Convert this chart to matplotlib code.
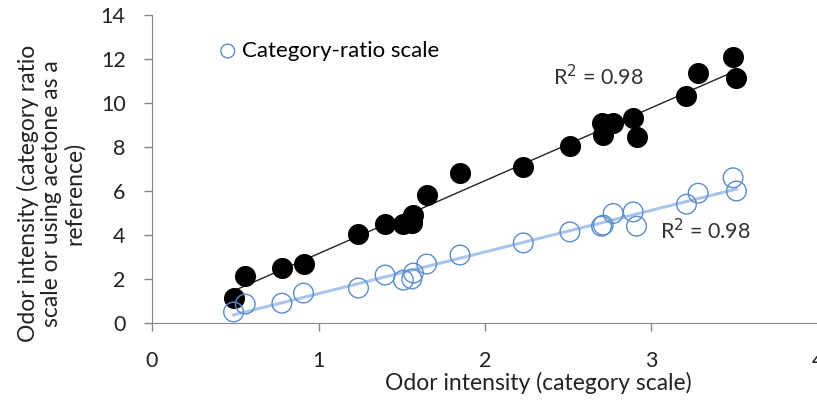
import numpy as np
import matplotlib
matplotlib.use("Agg")
from matplotlib import pyplot as plt

plt.rcParams['font.family'] = ['Lato', 'DejaVu Sans']

# category scale (x) shared by both series
x_cat = [0.49, 0.56, 0.78, 0.91, 1.24, 1.40, 1.51, 1.56, 1.57, 1.65, 1.85,
         2.23, 2.51, 2.70, 2.71, 2.77, 2.89, 2.91, 3.21, 3.28, 3.49, 3.51]
# acetone reference (black filled)
y_acetone = [1.14, 2.14, 2.50, 2.68, 4.05, 4.50, 4.50, 4.55, 4.90, 5.80, 6.80,
             7.09, 8.05, 9.10, 8.55, 9.10, 9.30, 8.45, 10.30, 11.35, 12.08, 11.13]
# category-ratio scale (blue open)
y_ratio = [0.50, 0.86, 0.90, 1.36, 1.59, 2.18, 1.95, 2.00, 2.27, 2.68, 3.09,
           3.64, 4.14, 4.40, 4.45, 4.98, 5.05, 4.40, 5.40, 5.90, 6.60, 6.00]

x_ticks = [0, 1, 2, 3, 4]
y_ticks = [0, 2, 4, 6, 8, 10, 12, 14]

blue = '#5b8ccc'
light_blue = '#a9c5ec'
grey = '#868686'
txt = '#222222'

fig = plt.figure(figsize=(8.17, 4.01), dpi=100)
ax = fig.add_axes([152 / 817, 78 / 401, 666 / 817, 308 / 401])

x = np.array(x_cat)
xs = np.array([x.min(), x.max()])

# linear trendlines
p1 = np.polyfit(x, y_acetone, 1)
p2 = np.polyfit(x, y_ratio, 1)
ax.plot(xs, np.polyval(p1, xs), color='#222222', lw=1.0, zorder=2)
ax.plot(xs, np.polyval(p2, xs), color=light_blue, lw=2.2, zorder=2)

ax.scatter(x_cat, y_acetone, s=200, color='black', zorder=3)
sc = ax.scatter(x_cat, y_ratio, s=200, facecolors='none', edgecolors=blue,
                linewidths=1.0, zorder=4, label='Category-ratio scale')

ax.text(2.41, 11.2, 'R$^2$ = 0.98', fontsize=15.5, color='#333333', va='center')
ax.text(3.05, 4.2, 'R$^2$ = 0.98', fontsize=15.5, color='#333333', va='center')

ax.set_xlim(0, 4)
ax.set_ylim(0, 14)
ax.set_xticks(x_ticks)
ax.set_yticks(y_ticks)
for s in ['top', 'right']:
    ax.spines[s].set_visible(False)
for s in ['left', 'bottom']:
    ax.spines[s].set_color(grey)
ax.tick_params(axis='both', colors=grey, labelcolor=txt, labelsize=15.5,
               length=6, width=1)
ax.tick_params(axis='x', pad=14)
ax.tick_params(axis='y', pad=13)

ax.set_xlabel('Odor intensity (category scale)', fontsize=16.5, color=txt)
ax.xaxis.set_label_coords(0.58, -0.16)
ax.set_ylabel('Odor intensity (category ratio\nscale or using acetone as a\nreference)',
              fontsize=16.5, color=txt, linespacing=1.1)
ax.yaxis.set_label_coords(-0.10, 0.42)

ax.legend(handles=[sc], loc='upper left', bbox_to_anchor=(0.102, 0.916),
          frameon=False, fontsize=16, markerscale=0.7, handletextpad=0.29,
          handlelength=0.7, borderaxespad=0, borderpad=0)

fig.savefig('out.png', dpi=100)
